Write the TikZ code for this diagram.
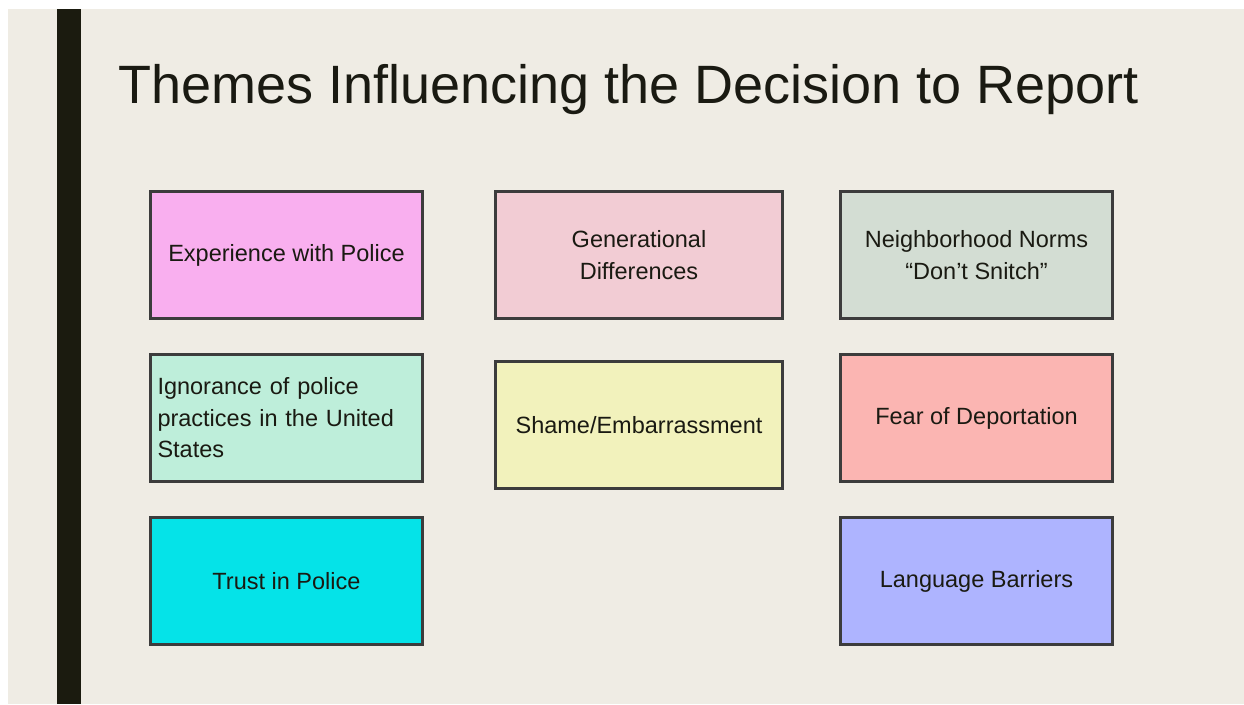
\documentclass[tikz,border=0pt]{standalone}
\usepackage{fontspec}
\setmainfont{Liberation Sans}
\definecolor{bg}{HTML}{EFECE4}
\definecolor{bar}{HTML}{1B1B0F}
\definecolor{ink}{HTML}{1A1A12}
\definecolor{edge}{HTML}{3C3C3C}
\definecolor{cA}{HTML}{F9AFEF}
\definecolor{cB}{HTML}{F2CCD4}
\definecolor{cC}{HTML}{D3DDD3}
\definecolor{cD}{HTML}{BEEEDA}
\definecolor{cE}{HTML}{F2F2BC}
\definecolor{cF}{HTML}{FBB5B2}
\definecolor{cG}{HTML}{05E3E8}
\definecolor{cH}{HTML}{AEB4FF}
\tikzset{
  theme/.style={draw=edge, line width=3pt, rectangle, minimum width=272pt, minimum height=127pt,
    inner sep=0pt, align=center, text=ink, font=\fontsize{23.5}{31.5}\selectfont},
  wide/.style={minimum width=287pt},
}
\begin{document}
\begin{tikzpicture}[x=1pt,y=-1pt]
\useasboundingbox (0,0) rectangle (1244,704);
\fill[white] (0,0) rectangle (1244,704);
\fill[bg] (8,9) rectangle (1244,704);
\fill[bar] (57,9) rectangle (81,704);
\node[anchor=base west, inner sep=0pt, text=ink, font=\fontsize{54}{60}\selectfont] (title) at (118,103) {Themes Influencing the Decision to Report};
\node[theme, fill=cA] (exp) at (286.5,255) {Experience with Police};
\node[theme, wide, fill=cB] (gen) at (639,255) {Generational\\Differences};
\node[theme, fill=cC] (nbh) at (976.5,255) {Neighborhood Norms\\“Don’t Snitch”};
\node[theme, fill=cD, align=left, text width=258pt, inner xsep=7pt] (ign) at (286.5,418) {Ignorance of police\\practices in the United\\States};
\node[theme, wide, fill=cE] (sha) at (639,425) {Shame/Embarrassment};
\node[theme, fill=cF] (dep) at (976.5,418) {Fear of Deportation};
\node[theme, fill=cG] (tru) at (286.5,581) {Trust in Police};
\node[theme, fill=cH] (lan) at (976.5,581) {Language Barriers};
\end{tikzpicture}
\end{document}
